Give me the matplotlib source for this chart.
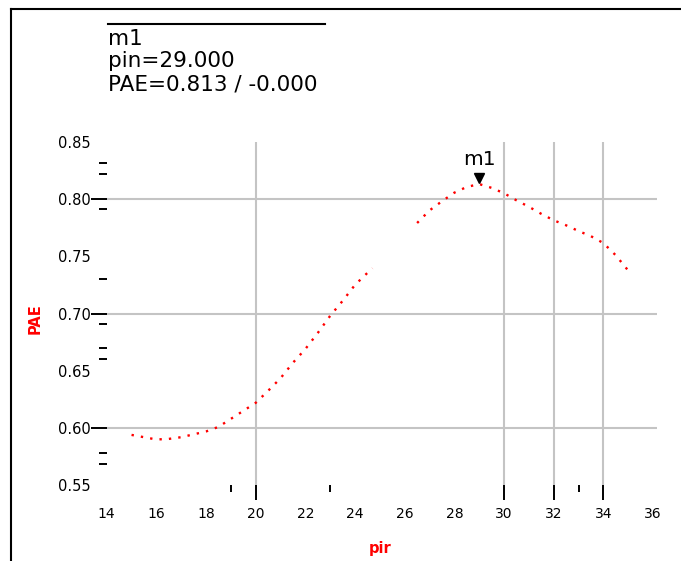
import numpy as np
import matplotlib
matplotlib.use('Agg')
import matplotlib.pyplot as plt
from matplotlib.lines import Line2D
from matplotlib.transforms import offset_copy

# PAE sweep (two traces, gap between them)
pin_a = [15.0, 15.5, 16.0, 16.5, 17.0, 17.5, 18.0, 18.5, 19.0, 19.5,
         20.0, 20.5, 21.0, 21.5, 22.0, 22.5, 23.0, 23.5, 24.0, 24.5, 24.7]
pae_a = [0.594, 0.592, 0.590, 0.5905, 0.592, 0.5945, 0.597, 0.601, 0.608,
         0.615, 0.622, 0.6325, 0.6435, 0.657, 0.669, 0.683, 0.698, 0.711,
         0.725, 0.7355, 0.7395]
pin_b = [26.5, 27.0, 27.5, 28.0, 28.5, 29.0, 29.5, 30.0, 30.5, 31.0,
         31.5, 32.0, 32.5, 33.0, 33.5, 34.0, 34.5, 35.0]
pae_b = [0.779, 0.790, 0.798, 0.8055, 0.8105, 0.813, 0.8097, 0.805,
         0.7988, 0.7932, 0.787, 0.7814, 0.777, 0.772, 0.7675, 0.7615,
         0.7508, 0.7375]

# marker m1
m_name = 'm1'
m_pin = 29.0
m_pae = 0.813

xtick_labels = [14, 16, 18, 20, 22, 24, 26, 28, 30, 32, 34, 36]
ytick_labels = [0.55, 0.60, 0.65, 0.70, 0.75, 0.80, 0.85]
x_grid = [20, 30, 32, 34]
y_grid = [0.60, 0.70, 0.80]
x_short_marks = [19, 23, 33]
y_short_marks = [0.831, 0.822, 0.791, 0.730, 0.691, 0.670, 0.660, 0.578, 0.569]

W, H = 681, 561
fig = plt.figure(figsize=(W / 100, H / 100), dpi=100)
ax = fig.add_axes([106.7 / W, (H - 485.3) / H, 550.3 / W, 343.6 / H])

for s in ax.spines.values():
    s.set_visible(False)

ax.set_xlim(14, 36.16)
ax.set_ylim(0.55, 0.85)

for gx in x_grid:
    ax.axvline(gx, color='#c4c4c4', lw=1.5, zorder=0)
for gy in y_grid:
    ax.axhline(gy, color='#c4c4c4', lw=1.5, zorder=0)

ax.plot(pin_a, pae_a, color='red', lw=1.7, linestyle=(0, (1, 3)))
ax.plot(pin_b, pae_b, color='red', lw=1.7, linestyle=(0, (1, 3)))

# marker triangle + name
tri = offset_copy(ax.transData, fig=fig, x=0, y=4.5, units='points')
ax.plot([m_pin], [m_pae], marker='v', color='black', ms=7, transform=tri,
        clip_on=False)
ax.annotate(m_name, xy=(m_pin, m_pae), xytext=(0, 14),
            textcoords='offset points', ha='center', va='baseline',
            fontsize=14.5, family='DejaVu Sans')

# tick labels only on the main axes
ax.set_xticks(xtick_labels)
ax.set_xticklabels([str(v) for v in xtick_labels])
ax.set_yticks(ytick_labels)
ax.set_yticklabels([f'{v:.2f}' for v in ytick_labels])
ax.tick_params(length=0, labelsize=10)
ax.tick_params(axis='y', labelsize=10.5)
ax.tick_params(axis='x', pad=15.6)
ax.tick_params(axis='y', pad=11.3)

# black tick marks on secondary axes
secx = ax.secondary_xaxis('bottom')
secx.spines['bottom'].set_visible(False)
secx.set_xticks(x_grid)
secx.set_xticks(x_short_marks, minor=True)
secx.tick_params(which='major', length=10.8, width=1.4, labelbottom=False)
secx.tick_params(which='minor', length=5.3, width=1.4, labelbottom=False)

secy = ax.secondary_yaxis('left')
secy.spines['left'].set_visible(False)
secy.set_yticks(y_grid)
secy.set_yticks(y_short_marks, minor=True)
secy.tick_params(which='major', length=11.5, width=1.4, labelleft=False)
secy.tick_params(which='minor', length=5.8, width=1.4, labelleft=False)

ax.set_xlabel('pir', color='red', fontsize=10.5, fontweight='bold',
              va='center')
ax.xaxis.set_label_coords(0.497, -0.183)
ax.set_ylabel('PAE', color='red', fontsize=10.5, fontweight='bold',
              va='center')
ax.yaxis.set_label_coords(-0.130, 0.485)

# frame around the plot (left and top edges only visible)
fig.add_artist(Line2D([11 / W, 11 / W], [0, 1 - 9 / H],
                      transform=fig.transFigure, color='black', lw=1.5))
fig.add_artist(Line2D([11 / W, 1], [1 - 9 / H, 1 - 9 / H],
                      transform=fig.transFigure, color='black', lw=1.5))

# marker readout
fig.add_artist(Line2D([108 / W, 325 / W], [1 - 24 / H, 1 - 24 / H],
                      transform=fig.transFigure, color='black', lw=1.5))
readout = [m_name, f'pin={m_pin:.3f}', f'PAE={m_pae:.3f} / -0.000']
for line, yb in zip(readout, [45, 67, 90]):
    fig.text(108 / W, 1 - yb / H, line, fontsize=15.5, va='baseline',
             ha='left', family='DejaVu Sans')

fig.savefig('out.png', dpi=100)
